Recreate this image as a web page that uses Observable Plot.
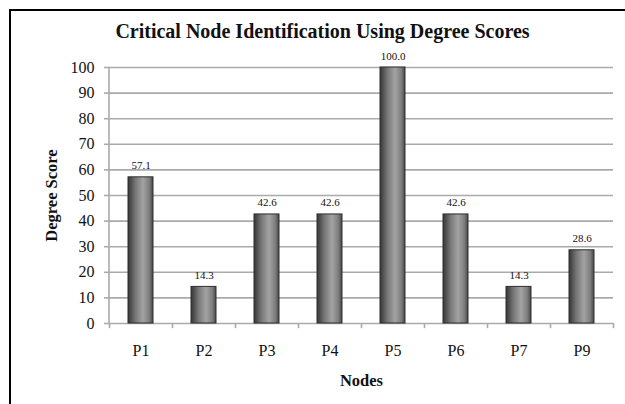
<!DOCTYPE html>
<html>
<head>
<meta charset="utf-8">
<script src="https://cdn.jsdelivr.net/npm/d3@7"></script>
<script src="https://cdn.jsdelivr.net/npm/@observablehq/plot@0.6"></script>
<style>
  html, body { margin: 0; padding: 0; background: #fff; }
  #wrap { position: relative; width: 625px; height: 404px; overflow: hidden; }
  #frame { position: absolute; left: 9px; top: 9px; width: 700px; height: 500px;
           border-left: 2px solid #000; border-top: 2px solid #000; }
  #title { position: absolute; left: 0; width: 645px; top: 20px; text-align: center;
           font-family: "Liberation Serif", serif; font-weight: bold; font-size: 20px; color: #111; }
  #chart { position: absolute; left: 0; top: 0; }
</style>
</head>
<body>
<div id="wrap">
  <div id="frame"></div>
  <div id="chart"></div>
  <div id="title">Critical Node Identification Using Degree Scores</div>
</div>
<script>
const nodes = ["P1", "P2", "P3", "P4", "P5", "P6", "P7", "P9"];
const scores = [57.1, 14.3, 42.6, 42.6, 100.0, 42.6, 14.3, 28.6];
const yTicks = [0, 10, 20, 30, 40, 50, 60, 70, 80, 90, 100];

const data = nodes.map((n, i) => ({node: n, score: scores[i]}));
const W = 625, H = 404, mL = 109, mR = 12, mT = 67, mB = 81;
const step = (W - mL - mR) / nodes.length;

const plot = Plot.plot({
  width: W, height: H,
  marginLeft: mL, marginRight: mR, marginTop: mT, marginBottom: mB,
  style: {fontFamily: "Liberation Serif, serif", fontSize: "16px", color: "#111", background: "transparent"},
  x: {domain: nodes, paddingInner: 0.6, paddingOuter: 0.3, label: null},
  y: {domain: [0, 100], label: null},
  marks: [
    Plot.ruleY(yTicks.filter(d => d > 0), {stroke: "#aaa", strokeWidth: 1.6}),
    Plot.ruleY([0], {stroke: "#aaa", strokeWidth: 1.6}),
    Plot.ruleX([0], {x: () => nodes[0], dx: -step / 2 - 0.5, stroke: "#aaa", strokeWidth: 1.6}),
    Plot.ruleX(nodes, {x: d => d, y1: 0, y2: -2, dx: step / 2, stroke: "#aaa", strokeWidth: 1.6}),
    Plot.ruleX([nodes[0]], {x: d => d, y1: 0, y2: -2, dx: -step / 2, stroke: "#aaa", strokeWidth: 1.6}),
    Plot.barY(data, {x: "node", y: "score", fill: "url(#barGrad)", stroke: "#2e2e2e", strokeWidth: 1}),
    Plot.text(data, {x: "node", y: "score", text: d => d.score.toFixed(1), lineAnchor: "bottom", dy: -8,
                     fontSize: 11, fill: "#111"}),
    Plot.axisY({ticks: yTicks, tickSize: 5, tickPadding: 10, stroke: "#aaa", fontSize: 16,
                label: "Degree Score", labelAnchor: "center", labelArrow: "none", labelOffset: 64}),
    Plot.axisX({tickSize: 0, tickPadding: 21, fontSize: 16,
                label: "Nodes", labelAnchor: "center", labelArrow: "none", labelOffset: 62})
  ]
});

// gradient definition for cylindrical bars
const svg = d3.select(plot);
const defs = svg.insert("defs", ":first-child");
const g = defs.append("linearGradient").attr("id", "barGrad").attr("x1", "0%").attr("x2", "100%").attr("y1", "0%").attr("y2", "0%");
[["0%", "#363636"], ["30%", "#777"], ["60%", "#a3a3a3"], ["85%", "#7e7e7e"], ["100%", "#484848"]]
  .forEach(([o, c]) => g.append("stop").attr("offset", o).attr("stop-color", c));
// bold axis labels
svg.selectAll("g[aria-label='y-axis label'] text, g[aria-label='x-axis label'] text")
  .attr("font-weight", "bold").attr("font-size", 16.5);
svg.selectAll("g[aria-label='y-axis tick'] path, g[aria-label='y-axis tick'] line").attr("stroke", "#aaa").attr("stroke-width", 1.6);

document.getElementById("chart").appendChild(plot);
</script>
</body>
</html>
